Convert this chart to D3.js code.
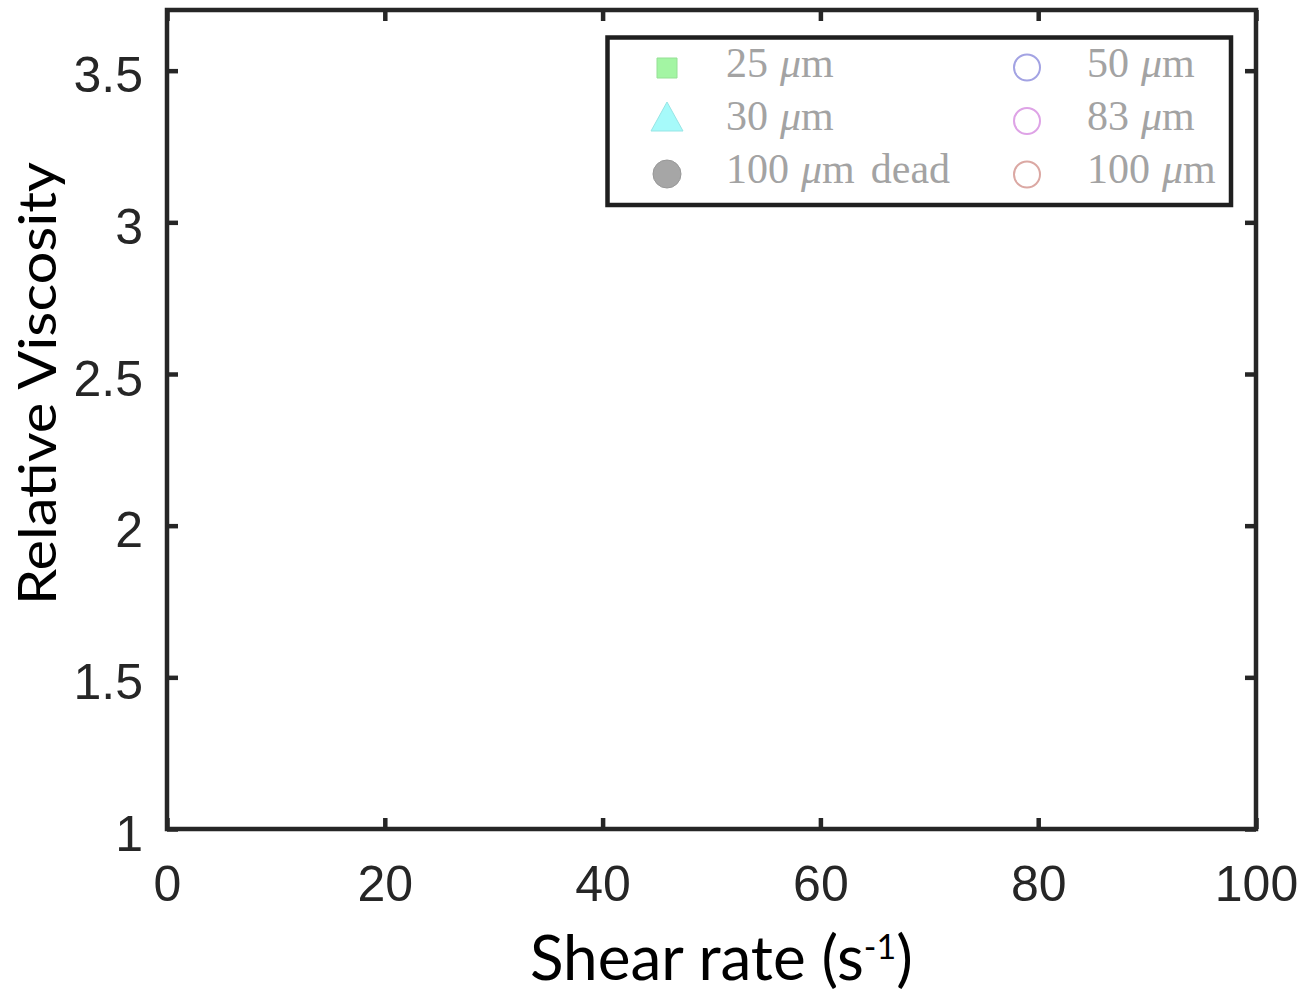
<!DOCTYPE html>
<html>
<head>
<meta charset="utf-8">
<script src="https://cdn.jsdelivr.net/npm/d3@7"></script>
<style>
  html, body { margin: 0; padding: 0; background: #fff; }
  svg { display: block; }
</style>
</head>
<body>
<svg id="chart" width="1303" height="992"></svg>
<script>
// ---- data ----
const xTicks = [0, 20, 40, 60, 80, 100];
const yTicks = [1, 1.5, 2, 2.5, 3, 3.5];
const xDomain = [0, 100];
const yDomain = [1, 3.7];
const seriesSize = ["25", "30", "100", "50", "83", "100"];
const seriesSuffix = ["", "", "dead", "", "", ""];
const seriesColors = ["#a3f5a3", "#a6fafa", "#a6a6a6", "#a3a3e3", "#dea3e6", "#dba8a3"];
const seriesShapes = ["square", "triangle", "filledCircle", "circle", "circle", "circle"];
// no data points are visible in the reference (all series empty)
const series25 = [];
const series30 = [];
const series100dead = [];
const series50 = [];
const series83 = [];
const series100 = [];
const allSeries = [series25, series30, series100dead, series50, series83, series100];

const svg = d3.select("#chart");
const X0 = 167, X1 = 1256, Y0 = 829, Y1 = 10;
const x = d3.scaleLinear().domain(xDomain).range([X0, X1]);
const y = d3.scaleLinear().domain(yDomain).range([Y0, Y1]);
const axisColor = "#262626";
const tickFont = "'Liberation Sans', Arial, Helvetica, sans-serif";
const SW = 4.5;

function styleAxis(g) {
  g.select(".domain").remove();
  g.selectAll(".tick line").attr("stroke", axisColor).attr("stroke-width", SW);
  g.selectAll(".tick text").attr("fill", axisColor).style("font-family", tickFont).style("font-size", "50px");
}
// bottom
svg.append("g").attr("transform", `translate(0,${Y0})`)
  .call(d3.axisBottom(x).tickValues(xTicks).tickSizeInner(-11).tickSizeOuter(0).tickPadding(36).tickFormat(d3.format("d")))
  .call(styleAxis);
// top
svg.append("g").attr("transform", `translate(0,${Y1})`)
  .call(d3.axisTop(x).tickValues(xTicks).tickSizeInner(-11).tickSizeOuter(0).tickFormat(""))
  .call(styleAxis);
// left
svg.append("g").attr("class", "yleft").attr("transform", `translate(${X0},0)`)
  .call(d3.axisLeft(y).tickValues(yTicks).tickSizeInner(-11).tickSizeOuter(0).tickPadding(24).tickFormat(d => d3.format("")(d)))
  .call(styleAxis);
svg.selectAll(".yleft .tick text").attr("dy", "0.42em");
// right
svg.append("g").attr("transform", `translate(${X1},0)`)
  .call(d3.axisRight(y).tickValues(yTicks).tickSizeInner(-11).tickSizeOuter(0).tickFormat(""))
  .call(styleAxis);

// axes box
svg.append("rect").attr("x", X0).attr("y", Y1).attr("width", X1 - X0).attr("height", Y0 - Y1)
  .attr("fill", "none").attr("stroke", axisColor).attr("stroke-width", SW);

// axis labels
const labelFont = "Lato, 'Open Sans', Calibri, sans-serif";
svg.append("text").attr("transform", `translate(56,605) rotate(-90)`)
  .attr("text-anchor", "start").attr("fill", "#000")
  .attr("textLength", 443).attr("lengthAdjust", "spacingAndGlyphs")
  .style("font-family", labelFont).style("font-size", "52px")
  .text("Relative Viscosity");
const xl = svg.append("text").attr("x", 530).attr("y", 980)
  .attr("text-anchor", "start").attr("fill", "#000")
  .style("font-family", labelFont).style("font-size", "62px");
xl.append("tspan").text("Shear rate (s");
xl.append("tspan").attr("dy", -21).style("font-size", "34px").text("-1");
xl.append("tspan").attr("dy", 21).text(")");

// marker shapes
function shapePath(shape) {
  const p = d3.path();
  if (shape === "square") { p.rect(-10, -10, 20, 20); }
  else if (shape === "triangle") { p.moveTo(0, -15); p.lineTo(16, 14); p.lineTo(-16, 14); p.closePath(); }
  else if (shape === "filledCircle") { p.arc(0, 0, 14, 0, 2 * Math.PI); }
  else { p.arc(0, 0, 13, 0, 2 * Math.PI); }
  return p.toString();
}

// data layer (empty in the reference)
allSeries.forEach((s, i) => {
  svg.append("g").selectAll("path").data(s).join("path")
    .attr("transform", d => `translate(${x(d[0])},${y(d[1])})`)
    .attr("d", shapePath(seriesShapes[i]))
    .attr("fill", seriesShapes[i] === "circle" ? "none" : seriesColors[i])
    .attr("stroke", seriesColors[i]).attr("stroke-width", 2);
});

// legend
const lg = svg.append("g");
lg.append("rect").attr("x", 607.5).attr("y", 37.5).attr("width", 623.5).attr("height", 167.5)
  .attr("fill", "#fff").attr("stroke", "#1f1f1f").attr("stroke-width", 4.5);
const rowY = [68, 117, 174];
const rowYc = [67.5, 121, 174.5];
const textBase = [77, 130, 183];
seriesSize.forEach((sz, i) => {
  const col = i < 3 ? 0 : 1;
  const row = i % 3;
  const mx = col === 0 ? 667 : 1027;
  const tx = col === 0 ? 726 : 1087;
  const cy = col === 0 ? rowY[row] : rowYc[row];
  const shape = seriesShapes[i];
  lg.append("path").attr("transform", `translate(${mx},${cy})`)
    .attr("d", shapePath(shape))
    .attr("fill", shape === "circle" ? "none" : seriesColors[i])
    .attr("stroke", shape === "circle" ? seriesColors[i] : d3.color(seriesColors[i]).darker(0.25))
    .attr("stroke-width", shape === "circle" ? 2 : 1);
  const t = lg.append("text").attr("x", tx).attr("y", textBase[row])
    .attr("fill", "#a3a3a3").style("font-family", "'Liberation Serif', 'DejaVu Serif', serif")
    .style("font-size", "42px");
  t.append("tspan").text(sz);
  t.append("tspan").attr("dx", 12).style("font-style", "italic").text("μ");
  t.append("tspan").text("m");
  if (seriesSuffix[i]) t.append("tspan").attr("dx", 16).text(seriesSuffix[i]);
});
</script>
</body>
</html>
